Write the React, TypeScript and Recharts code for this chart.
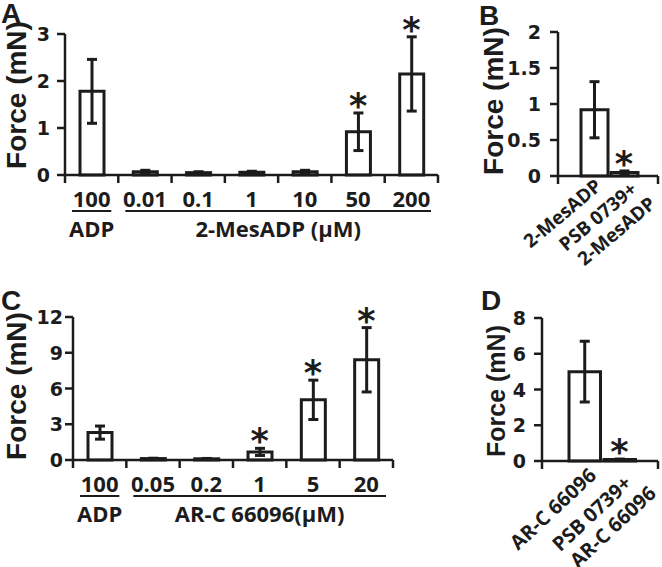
import React from 'react';
import { ComposedChart, Bar, XAxis, YAxis, ErrorBar, Line, LabelList } from 'recharts';

const INK = '#1c1c1c';
const NUM_FONT = '"Liberation Sans", Arial, sans-serif';
const TICK_FONT = '"DejaVu Sans", sans-serif';
const LBL_FONT = '"Open Sans", sans-serif';
const STAR_FONT = '"DejaVu Sans", sans-serif';

// ---------- Panel A ----------
const catsA = ['100', '0.01', '0.1', '1', '10', '50', '200'];
const forceA = [1.78, 0.07, 0.05, 0.06, 0.07, 0.92, 2.15];
const semA = [0.68, 0.03, 0.02, 0.02, 0.03, 0.4, 0.79];
const sigA = [false, false, false, false, false, true, true];
const ticksA = [0, 1, 2, 3];
const groupsA = [
  { label: 'ADP', from: 0, to: 0 },
  { label: '2-MesADP (µM)', from: 1, to: 6 },
];

// ---------- Panel B ----------
const catsB = ['2-MesADP', 'PSB 0739+\n2-MesADP'];
const forceB = [0.92, 0.05];
const semB = [0.39, 0.02];
const sigB = [false, true];
const ticksB = [0, 0.5, 1, 1.5, 2];

// ---------- Panel C ----------
const catsC = ['100', '0.05', '0.2', '1', '5', '20'];
const forceC = [2.3, 0.12, 0.1, 0.68, 5.05, 8.41];
const semC = [0.55, 0.03, 0.03, 0.3, 1.65, 2.7];
const sigC = [false, false, false, true, true, true];
const ticksC = [0, 3, 6, 9, 12];
const groupsC = [
  { label: 'ADP', from: 0, to: 0 },
  { label: 'AR-C 66096(µM)', from: 1, to: 5 },
];

// ---------- Panel D ----------
const catsD = ['AR-C 66096', 'PSB 0739+\nAR-C 66096'];
const forceD = [5.0, 0.08];
const semD = [1.7, 0.03];
const sigD = [false, true];
const ticksD = [0, 2, 4, 6, 8];

type Row = { name: string; value: number; err: number; top: number | null };
function build(cats: string[], vals: number[], errs: number[], sig: boolean[]): Row[] {
  return cats.map((name, i) => ({
    name,
    value: vals[i],
    err: errs[i],
    top: sig[i] ? vals[i] + errs[i] : null,
  }));
}

const dataA = build(catsA, forceA, semA, sigA);
const dataB = build(catsB, forceB, semB, sigB);
const dataC = build(catsC, forceC, semC, sigC);
const dataD = build(catsD, forceD, semD, sigD);

const Star = (props: any) => {
  const { x, y, value } = props;
  if (value == null || y == null || x == null) return null;
  return (
    <text x={x} y={y + 5} textAnchor="middle" fontFamily={STAR_FONT} fontWeight={700} fontSize={35} fill={INK}>
      *
    </text>
  );
};

const YTick = (props: any) => {
  const { x, y, payload } = props;
  return (
    <text x={x} y={y} dy={7} textAnchor="end" fontFamily={TICK_FONT} fontWeight={700} fontSize={19} fill={INK}>
      {payload.value}
    </text>
  );
};

const CatTick = (props: any) => {
  const { x, y, payload, index, band, n, groups } = props;
  const left = x - band / 2;
  return (
    <g>
      <line x1={left} x2={left} y1={y - 8} y2={y} stroke={INK} strokeWidth={2.5} />
      {index === n - 1 && <line x1={left + band} x2={left + band} y1={y - 8} y2={y} stroke={INK} strokeWidth={2.5} />}
      <text x={x} y={y + 24} textAnchor="middle" fontFamily={LBL_FONT} fontWeight={700} fontSize={22} fill={INK}>
        {payload.value}
      </text>
      {groups
        .filter((g: any) => g.from === index)
        .map((g: any) => {
          const x0 = left + 7;
          const x1 = left + (g.to - g.from + 1) * band - 7;
          return (
            <g key={g.label}>
              <line x1={x0} x2={x1} y1={y + 28} y2={y + 28} stroke={INK} strokeWidth={2} />
              <text x={(x0 + x1) / 2} y={y + 54} textAnchor="middle" fontFamily={LBL_FONT} fontWeight={700} fontSize={22} fill={INK}>
                {g.label}
              </text>
            </g>
          );
        })}
    </g>
  );
};

const RotTick = (props: any) => {
  const { x, y, payload, index, plotLeft, plotRight, n, ax, ay, m1, m2, angle, fs } = props;
  const lines = String(payload.value).split('\n');
  const multi = lines.length > 1;
  return (
    <g>
      {index === 0 && <line x1={plotLeft} x2={plotLeft} y1={y - 8} y2={y} stroke={INK} strokeWidth={2.5} />}
      {index === n - 1 && <line x1={plotRight} x2={plotRight} y1={y - 8} y2={y} stroke={INK} strokeWidth={2.5} />}
      <g transform={`translate(${x + ax},${y + ay}) rotate(${angle})`}>
        {lines.map((l, i) => {
          const off = multi ? (i === 0 ? m1 : m2) : [0, 0];
          return (
            <text key={i} x={off[0]} y={off[1]} textAnchor="end" fontFamily={LBL_FONT} fontWeight={700} fontSize={fs} fill={INK}>
              {l}
            </text>
          );
        })}
      </g>
    </g>
  );
};

const axisStyle = { stroke: INK, strokeWidth: 2.5 };

export default function App() {
  return (
    <div style={{ position: 'absolute', left: 0, top: 0, width: 662, height: 567, background: '#fff', overflow: 'hidden' }}>
      {/* Panel A */}
      <div style={{ position: 'absolute', left: 0, top: 0 }}>
        <ComposedChart width={450} height={280} data={dataA} margin={{ top: 34, right: 12, bottom: 45, left: 0 }}>
          <XAxis dataKey="name" type="category" height={60} interval={0} tickLine={false} tickSize={8} tickMargin={0} axisLine={axisStyle}
            tick={<CatTick band={373 / 7} n={catsA.length} groups={groupsA} />} />
          <YAxis width={65} domain={[0, 3]} ticks={ticksA} interval={0} tickSize={8} tickMargin={7} axisLine={axisStyle} tickLine={axisStyle} tick={<YTick />} />
          <Bar dataKey="value" fill="#fff" stroke={INK} strokeWidth={3} barSize={24} isAnimationActive={false}>
            <ErrorBar dataKey="err" width={5} strokeWidth={3} stroke={INK} direction="y" isAnimationActive={false} />
          </Bar>
          <Line dataKey="top" stroke="none" dot={false} activeDot={false} isAnimationActive={false}>
            <LabelList dataKey="top" content={<Star />} />
          </Line>
        </ComposedChart>
      </div>

      {/* Panel B */}
      <div style={{ position: 'absolute', left: 450, top: 0 }}>
        <ComposedChart width={212} height={280} data={dataB} margin={{ top: 32, right: 4, bottom: 44, left: 0 }}>
          <XAxis dataKey="name" type="category" height={60} interval={0} tickLine={false} tickSize={8} tickMargin={0} padding={{ left: 21, right: 19 }} axisLine={axisStyle}
            tick={<RotTick plotLeft={108} plotRight={208} n={catsB.length} ax={9} ay={4} m1={[2, 6]} m2={[7, 29]} angle={-40} fs={19} />} />
          <YAxis width={108} domain={[0, 2]} ticks={ticksB} interval={0} tickSize={8} tickMargin={9} axisLine={axisStyle} tickLine={axisStyle} tick={<YTick />} />
          <Bar dataKey="value" fill="#fff" stroke={INK} strokeWidth={3} barSize={30} isAnimationActive={false}>
            <ErrorBar dataKey="err" width={5} strokeWidth={3} stroke={INK} direction="y" isAnimationActive={false} />
          </Bar>
          <Line dataKey="top" stroke="none" dot={false} activeDot={false} isAnimationActive={false}>
            <LabelList dataKey="top" content={<Star />} />
          </Line>
        </ComposedChart>
      </div>

      {/* Panel C */}
      <div style={{ position: 'absolute', left: 0, top: 280 }}>
        <ComposedChart width={450} height={287} data={dataC} margin={{ top: 37, right: 57, bottom: 47, left: 0 }}>
          <XAxis dataKey="name" type="category" height={60} interval={0} tickLine={false} tickSize={8} tickMargin={0} axisLine={axisStyle}
            tick={<CatTick band={320 / 6} n={catsC.length} groups={groupsC} />} />
          <YAxis width={73} domain={[0, 12]} ticks={ticksC} interval={0} tickSize={8} tickMargin={2} axisLine={axisStyle} tickLine={axisStyle} tick={<YTick />} />
          <Bar dataKey="value" fill="#fff" stroke={INK} strokeWidth={3} barSize={24} isAnimationActive={false}>
            <ErrorBar dataKey="err" width={5} strokeWidth={3} stroke={INK} direction="y" isAnimationActive={false} />
          </Bar>
          <Line dataKey="top" stroke="none" dot={false} activeDot={false} isAnimationActive={false}>
            <LabelList dataKey="top" content={<Star />} />
          </Line>
        </ComposedChart>
      </div>

      {/* Panel D */}
      <div style={{ position: 'absolute', left: 450, top: 280 }}>
        <ComposedChart width={212} height={287} data={dataD} margin={{ top: 38, right: 4, bottom: 46, left: 0 }}>
          <XAxis dataKey="name" type="category" height={60} interval={0} tickLine={false} tickSize={8} tickMargin={0} padding={{ left: 25, right: 21 }} axisLine={axisStyle}
            tick={<RotTick plotLeft={92} plotRight={208} n={catsD.length} ax={13} ay={8} m1={[-5, 6]} m2={[6, 30]} angle={-43} fs={20} />} />
          <YAxis width={92} domain={[0, 8]} ticks={ticksD} interval={0} tickSize={8} tickMargin={8} axisLine={axisStyle} tickLine={axisStyle} tick={<YTick />} />
          <Bar dataKey="value" fill="#fff" stroke={INK} strokeWidth={3} barSize={35} isAnimationActive={false}>
            <ErrorBar dataKey="err" width={5} strokeWidth={3} stroke={INK} direction="y" isAnimationActive={false} />
          </Bar>
          <Line dataKey="top" stroke="none" dot={false} activeDot={false} isAnimationActive={false}>
            <LabelList dataKey="top" content={<Star />} />
          </Line>
        </ComposedChart>
      </div>

      {/* Panel letters and axis titles */}
      <svg width={662} height={567} style={{ position: 'absolute', left: 0, top: 0, pointerEvents: 'none' }}>
        <g fontFamily={NUM_FONT} fontWeight={700} fill={INK}>
          <text x={1} y={23} fontSize={28}>A</text>
          <text x={479} y={25} fontSize={28}>B</text>
          <text x={1} y={310} fontSize={28}>C</text>
          <text x={481} y={310} fontSize={28}>D</text>
          <text x={26} y={95} fontSize={28} textAnchor="middle" transform="rotate(-90 26 95)">Force (mN)</text>
          <text x={503} y={101} fontSize={28} textAnchor="middle" transform="rotate(-90 503 101)">Force (mN)</text>
          <text x={25.5} y={386} fontSize={28} textAnchor="middle" transform="rotate(-90 25.5 386)">Force (mN)</text>
          <text x={505} y={391} fontSize={25} textAnchor="middle" transform="rotate(-90 505 391)">Force (mN)</text>
        </g>
      </svg>
    </div>
  );
}
